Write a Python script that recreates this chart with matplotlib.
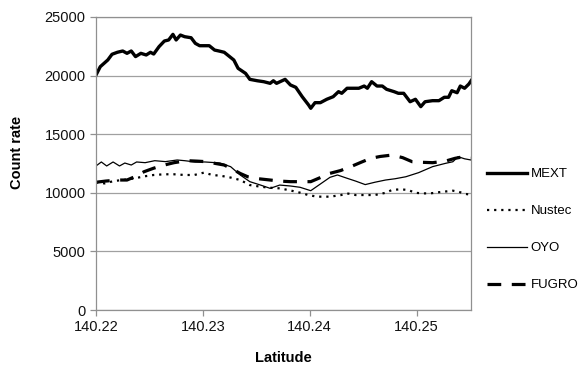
import matplotlib.pyplot as plt

plt.rcParams['font.family'] = ['Liberation Sans', 'DejaVu Sans']

# data
mext_lat = [140.2200, 140.2204, 140.2211, 140.2215, 140.2220, 140.2225, 140.2229, 140.2233,
            140.2237, 140.2242, 140.2247, 140.2251, 140.2254, 140.2259, 140.2264, 140.2268,
            140.2272, 140.2275, 140.2279, 140.2283, 140.2289, 140.2293, 140.2297, 140.2301,
            140.2306, 140.2311, 140.2315, 140.2320, 140.2329, 140.2333, 140.2340, 140.2344,
            140.2351, 140.2357, 140.2363, 140.2366, 140.2369, 140.2377, 140.2382, 140.2387,
            140.2393, 140.2399, 140.2401, 140.2405, 140.2410, 140.2416, 140.2422, 140.2427,
            140.2430, 140.2435, 140.2438, 140.2446, 140.2451, 140.2454, 140.2458, 140.2463,
            140.2468, 140.2472, 140.2479, 140.2483, 140.2488, 140.2494, 140.2499, 140.2504,
            140.2508, 140.2515, 140.2521, 140.2526, 140.2530, 140.2533, 140.2538, 140.2541,
            140.2545, 140.2549, 140.2552]
mext = [20050, 20760, 21330, 21820, 21990, 22100, 21900, 22100,
        21620, 21900, 21760, 21990, 21840, 22470, 22950, 23040,
        23520, 23040, 23460, 23320, 23230, 22750, 22550, 22550,
        22550, 22180, 22100, 21990, 21330, 20620, 20190, 19680,
        19560, 19480, 19340, 19560, 19340, 19680, 19200, 19000,
        18200, 17490, 17210, 17690, 17690, 17980, 18200, 18630,
        18490, 18920, 18920, 18920, 19110, 18920, 19480, 19110,
        19110, 18830, 18630, 18490, 18490, 17770, 17980, 17350,
        17770, 17860, 17860, 18150, 18150, 18710, 18540, 19110,
        18920, 19280, 19680]

nustec_lat = [140.2200, 140.2208, 140.2217, 140.2226, 140.2236, 140.2245, 140.2254, 140.2264,
              140.2273, 140.2283, 140.2292, 140.2301, 140.2309, 140.2317, 140.2326, 140.2335,
              140.2344, 140.2354, 140.2363, 140.2372, 140.2382, 140.2391, 140.2399, 140.2407,
              140.2419, 140.2429, 140.2435, 140.2443, 140.2452, 140.2461, 140.2471, 140.2477,
              140.2485, 140.2492, 140.2499, 140.2506, 140.2513, 140.2521, 140.2534, 140.2539,
              140.2546, 140.2550]
nustec = [10890, 10800, 11010, 11100, 11230, 11400, 11520, 11580,
          11580, 11520, 11520, 11720, 11520, 11450, 11300, 11090,
          10660, 10520, 10430, 10380, 10200, 10010, 9800, 9670,
          9670, 9800, 9950, 9810, 9810, 9810, 10000, 10240,
          10300, 10240, 10000, 9950, 9950, 10050, 10180, 10100,
          9900, 9850]

oyo_lat = [140.2200, 140.2205, 140.2210, 140.2216, 140.2222, 140.2227, 140.2233, 140.2238,
           140.2246, 140.2255, 140.2265, 140.2276, 140.2283, 140.2293, 140.2302, 140.2312,
           140.2316, 140.2326, 140.2335, 140.2344, 140.2354, 140.2363, 140.2372, 140.2382,
           140.2391, 140.2401, 140.2410, 140.2419, 140.2426, 140.2435, 140.2443, 140.2452,
           140.2461, 140.2471, 140.2480, 140.2490, 140.2502, 140.2515, 140.2527, 140.2534,
           140.2539, 140.2545, 140.2551]
oyo = [12290, 12630, 12290, 12630, 12290, 12540, 12370, 12630,
       12570, 12740, 12660, 12800, 12740, 12630, 12630, 12570,
       12540, 12230, 11520, 10950, 10660, 10380, 10660, 10580,
       10470, 10180, 10750, 11320, 11520, 11240, 11000, 10700,
       10900, 11090, 11200, 11370, 11720, 12230, 12510, 12650,
       13080, 12900, 12800]

fugro_lat = [140.2200, 140.2209, 140.2220, 140.2229, 140.2237, 140.2245, 140.2254, 140.2264,
             140.2273, 140.2285, 140.2295, 140.2304, 140.2312, 140.2320, 140.2328, 140.2335,
             140.2342, 140.2352, 140.2363, 140.2372, 140.2382, 140.2391, 140.2401, 140.2410,
             140.2419, 140.2429, 140.2440, 140.2448, 140.2457, 140.2466, 140.2477, 140.2487,
             140.2496, 140.2506, 140.2515, 140.2527, 140.2536, 140.2544, 140.2551]
fugro = [10900, 11000, 11090, 11090, 11400, 11800, 12100, 12370,
         12570, 12740, 12700, 12650, 12500, 12370, 12000, 11650,
         11370, 11200, 11090, 11000, 10950, 10950, 10950, 11300,
         11660, 11900, 12290, 12600, 12940, 13100, 13220, 13000,
         12650, 12600, 12570, 12700, 12940, 13080, 13000]

xticks = [140.22, 140.23, 140.24, 140.25]
yticks = [0, 5000, 10000, 15000, 20000, 25000]

fig = plt.figure(figsize=(5.83, 3.78), dpi=100)
ax = fig.add_axes([96 / 583, 68 / 378, 375 / 583, 293 / 378])

ax.plot(mext_lat, mext, color='black', lw=2.4, label='MEXT')
ax.plot(nustec_lat, nustec, color='black', lw=1.6, linestyle=(0, (1, 2.2)), label='Nustec')
ax.plot(oyo_lat, oyo, color='black', lw=0.9, label='OYO')
ax.plot(fugro_lat, fugro, color='black', lw=2.3, linestyle=(0, (4.3, 3.3)), label='FUGRO')

ax.set_xlim(140.22, 140.2551)
ax.set_ylim(0, 25000)
ax.set_xticks(xticks)
ax.set_xticklabels(['140.22', '140.23', '140.24', '140.25'])
ax.set_yticks(yticks)

ax.grid(axis='y', color='#a0a0a0', lw=0.9)
ax.set_axisbelow(True)
for s in ax.spines.values():
    s.set_color('#909090')
    s.set_linewidth(0.9)
ax.tick_params(axis='both', colors='#909090', labelcolor='#111111', labelsize=10.5,
               length=4, width=0.9)

fig.text(17 / 583, 1 - 152 / 378, 'Count rate', rotation=90, ha='center', va='center',
         fontsize=10.5, fontweight='bold')
fig.text(283 / 583, 1 - 358 / 378, 'Latitude', ha='center', va='center',
         fontsize=10.5, fontweight='bold')

# legend outside on the right
ax.legend(loc='upper left', bbox_to_anchor=(487 / 583, 1 - 168 / 378),
          bbox_transform=fig.transFigure, frameon=False, fontsize=9.5,
          handlelength=3.0, handletextpad=0.3, labelspacing=1.88,
          borderpad=0, borderaxespad=0)

fig.savefig('out.png', dpi=100)
